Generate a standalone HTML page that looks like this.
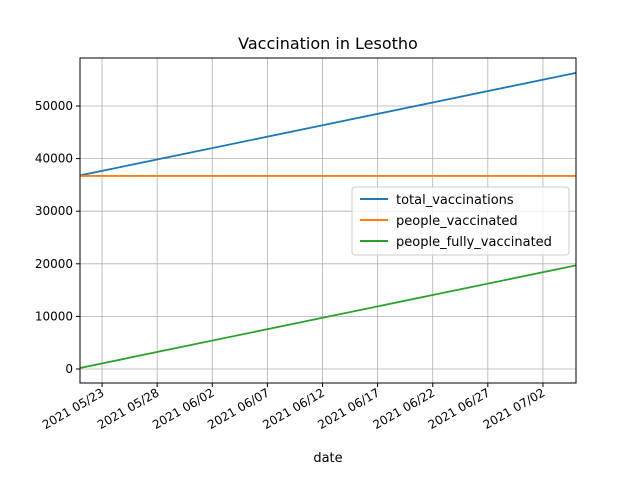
<!DOCTYPE html>
<html><head><meta charset="utf-8"><style>
body{margin:0;background:#fff;}
svg text{font-family:"DejaVu Sans","Liberation Sans",sans-serif;}
</style></head><body>
<svg id="chart" width="640" height="480" xmlns="http://www.w3.org/2000/svg">
<rect width="640" height="480" fill="#fff"/>
<text x="328" y="49" font-size="16" text-anchor="middle">Vaccination in Lesotho</text>
<g id="grid"></g>
<g id="series"></g>
<rect x="80" y="58" width="496" height="325" fill="none" stroke="#000" stroke-width="1"/>
<g id="axes"></g>
<text x="328" y="462" font-size="13" text-anchor="middle">date</text>
<g>
<rect x="352" y="187" width="217" height="68" rx="3" fill="#fff" fill-opacity="0.8" stroke="#ccc"/>
<line x1="360" y1="199" x2="388" y2="199" stroke="#1f77b4" stroke-width="2"/>
<text x="396" y="204" font-size="13">total_vaccinations</text>
<line x1="360" y1="220" x2="388" y2="220" stroke="#ff7f0e" stroke-width="2"/>
<text x="396" y="225" font-size="13">people_vaccinated</text>
<line x1="360" y1="241" x2="388" y2="241" stroke="#2ca02c" stroke-width="2"/>
<text x="396" y="246" font-size="13">people_fully_vaccinated</text>
</g>
</svg>
<script>
const dayOffsets=[0,45];
const totalVaccinations=[36800,56300];
const peopleVaccinated=[36700,36700];
const peopleFullyVaccinated=[200,19700];
const yTicks=[0,10000,20000,30000,40000,50000];
const xTickDays=[2,7,12,17,22,27,32,37,42];
const xTickLabels=["2021 05/23","2021 05/28","2021 06/02","2021 06/07","2021 06/12","2021 06/17","2021 06/22","2021 06/27","2021 07/02"];
const NS="http://www.w3.org/2000/svg";
const X0=80,X1=576,Y0=58,Y1=383;
function xs(d){return X0+d/45*(X1-X0);}
function ys(v){return 369-v*(369-106)/50000;}
function mk(t,a,p){const e=document.createElementNS(NS,t);for(const k in a)e.setAttribute(k,a[k]);p.appendChild(e);return e;}
const grid=document.getElementById('grid'),axes=document.getElementById('axes'),ser=document.getElementById('series');
yTicks.forEach(v=>{const y=ys(v);
 const g=mk('line',{x1:X0,x2:X1,y1:y,y2:y,stroke:'#b0b0b0','stroke-width':0.8},grid);
 
 
 mk('line',{x1:X0-4,x2:X0,y1:y,y2:y,stroke:'#000'},axes);
 const t=mk('text',{x:X0-7,y:y+4,'font-size':12,'text-anchor':'end'},axes);t.textContent=v;
 
 
});
xTickDays.forEach((d,i)=>{const x=xs(d);
 const g=mk('line',{x1:x,x2:x,y1:Y0,y2:Y1,stroke:'#b0b0b0','stroke-width':0.8},grid);
 
 
 mk('line',{x1:x,x2:x,y1:Y1,y2:Y1+4,stroke:'#000'},axes);
 const t=mk('text',{x:x+3,y:Y1+12,'font-size':12,'text-anchor':'end',transform:`rotate(-30 ${x+3} ${Y1+12})`},axes);t.textContent=xTickLabels[i];
 
 
});
[[totalVaccinations,'#1f77b4','total-vaccinations-line'],[peopleVaccinated,'#ff7f0e','people-vaccinated-line'],[peopleFullyVaccinated,'#2ca02c','people-fully-vaccinated-line']].forEach(s=>{
 const pts=dayOffsets.map((d,i)=>xs(d)+','+ys(s[0][i])).join(' ');
 const p=mk('polyline',{points:pts,fill:'none',stroke:s[1],'stroke-width':1.8},ser);
 
 
});
</script>
</body></html>
